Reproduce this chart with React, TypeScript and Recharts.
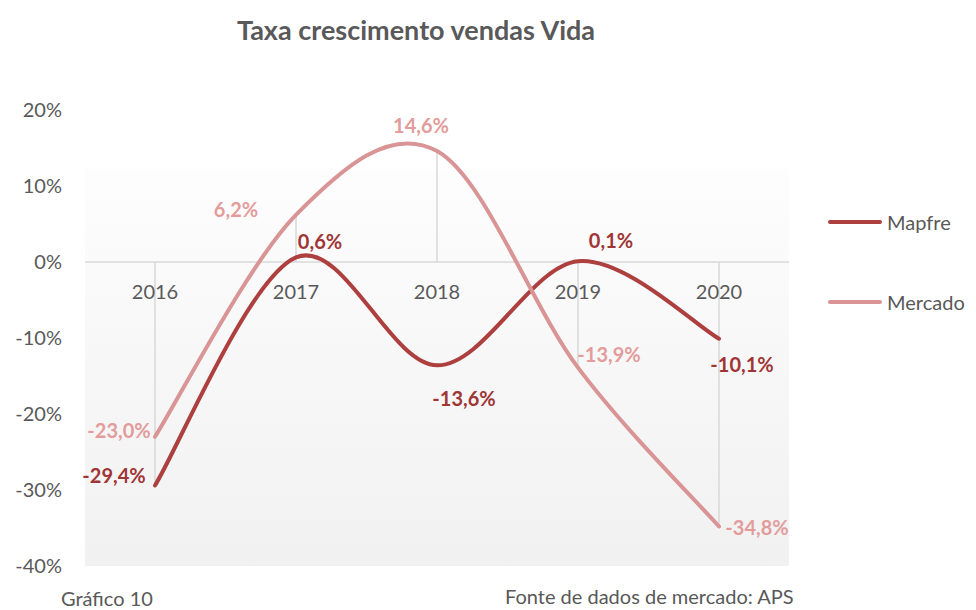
import React from "react";
import { LineChart, Line, XAxis, YAxis, CartesianGrid, ReferenceLine, ReferenceDot, LabelList } from "recharts";

const categories = ["2016", "2017", "2018", "2019", "2020"];
const mapfre = [-29.4, 0.6, -13.6, 0.1, -10.1];
const mercado = [-23.0, 6.2, 14.6, -13.9, -34.8];
const yTicks = [-40, -30, -20, -10, 0, 10, 20];

const TEXT = "#595959";
const FONT = "Lato, 'Open Sans', sans-serif";

// label placement offsets (style only)
const mapfreLabelOffsets = [[-41, -10], [24, -16], [27, 33], [33, -21], [23, 25]];
const mercadoLabelOffsets = [[-36, -7], [-60, -6], [-16, -26], [31, -14], [38, 1]];

const series = [
  { key: "Mapfre", values: mapfre, line: "#ad3f3f", label: "#a03535", offsets: mapfreLabelOffsets },
  { key: "Mercado", values: mercado, line: "#d99595", label: "#e39c9c", offsets: mercadoLabelOffsets },
];

const data = categories.map((c, i) => {
  const row: any = { cat: c };
  series.forEach((s) => (row[s.key] = s.values[i]));
  return row;
});

const dropExtremes = categories.map((c, i) => {
  let ext = 0;
  series.forEach((s) => {
    if (Math.abs(s.values[i]) > Math.abs(ext)) ext = s.values[i];
  });
  return ext;
});

// Excel-like smoothing (Catmull-Rom, k = 1/6)
function excelCurve(context: any) {
  let pts: number[][] = [];
  return {
    areaStart() {},
    areaEnd() {},
    lineStart() {
      pts = [];
    },
    point(x: any, y: any) {
      pts.push([+x, +y]);
    },
    lineEnd() {
      const n = pts.length;
      if (!n) return;
      context.moveTo(pts[0][0], pts[0][1]);
      for (let i = 0; i < n - 1; i++) {
        const p0 = pts[i - 1] || pts[i];
        const p1 = pts[i];
        const p2 = pts[i + 1];
        const p3 = pts[i + 2] || pts[i + 1];
        context.bezierCurveTo(
          p1[0] + (p2[0] - p0[0]) / 6,
          p1[1] + (p2[1] - p0[1]) / 6,
          p2[0] - (p3[0] - p1[0]) / 6,
          p2[1] - (p3[1] - p1[1]) / 6,
          p2[0],
          p2[1]
        );
      }
    },
  };
}

const fmt = (v: number) => v.toFixed(1).replace(".", ",") + "%";

const makeLabel = (color: string, offsets: number[][]) => (props: any) => {
  const vb = props.viewBox || {};
  const x = props.x ?? vb.x;
  const y = props.y ?? vb.y;
  const idx = props.index ?? 0;
  const off = offsets[idx] || [0, 0];
  if (x == null || y == null) return null;
  return (
    <text
      x={x + off[0]}
      y={y + off[1]}
      textAnchor="middle"
      dominantBaseline="central"
      fill={color}
      fontSize={20}
      fontWeight="bold"
      fontFamily={FONT}
    >
      {fmt(Number(props.value))}
    </text>
  );
};

export default function App() {
  return (
    <div style={{ position: "absolute", left: 0, top: 0, width: 976, height: 610, background: "#fff", fontFamily: FONT, overflow: "hidden" }}>
      <div
        style={{
          position: "absolute",
          left: 416,
          top: 12,
          transform: "translateX(-50%)",
          whiteSpace: "nowrap",
          fontSize: 27,
          fontWeight: "bold",
          color: TEXT,
          lineHeight: "36px",
        }}
      >
        Taxa crescimento vendas Vida
      </div>
      <LineChart
        width={976}
        height={610}
        data={data}
        margin={{ top: 110, right: 187, bottom: 44, left: 0 }}
        style={{ position: "absolute", left: 0, top: 0 }}
      >
        <defs>
          <linearGradient id="bgGrad" x1="0" y1="0" x2="0" y2="1">
            <stop offset="0" stopColor="#ffffff" />
            <stop offset="0.128" stopColor="#ffffff" />
            <stop offset="0.13" stopColor="#fdfdfd" />
            <stop offset="1" stopColor="#f1f1f1" />
          </linearGradient>
        </defs>
        <CartesianGrid horizontal={false} vertical={false} fill="url(#bgGrad)" stroke="none" />
        <XAxis dataKey="cat" hide padding={{ left: 70, right: 70 }} />
        <YAxis
          type="number"
          domain={[-40, 20]}
          ticks={yTicks}
          width={85}
          axisLine={false}
          tickLine={false}
          tickSize={0}
          tickMargin={23}
          tickFormatter={(v: number) => v + "%"}
          tick={{ fill: TEXT, fontSize: 20, fontFamily: FONT }}
        />
        {categories.map((c, i) => (
          <ReferenceLine
            key={"drop" + c}
            segment={[{ x: c, y: 0 }, { x: c, y: dropExtremes[i] }]}
            stroke="#d9d9d9"
            strokeWidth={1.5}
          />
        ))}
        <ReferenceLine y={0} stroke="#d9d9d9" strokeWidth={1.5} />
        {categories.map((c) => (
          <ReferenceDot
            key={"cat" + c}
            x={c}
            y={0}
            r={0}
            fill="none"
            stroke="none"
            label={{ value: c, position: "bottom", offset: 23, fill: TEXT, fontSize: 20, fontFamily: FONT }}
          />
        ))}
        {series.map((s) => (
          <Line
            key={s.key}
            dataKey={s.key}
            type={excelCurve as any}
            stroke={s.line}
            strokeWidth={4}
            strokeLinecap="round"
            dot={false}
            activeDot={false}
            isAnimationActive={false}
          >
            <LabelList dataKey={s.key} content={makeLabel(s.label, s.offsets)} />
          </Line>
        ))}
      </LineChart>
      {series.map((s, i) => (
        <div
          key={"leg" + s.key}
          style={{ position: "absolute", left: 828, top: 208 + i * 80, height: 28, display: "flex", alignItems: "center" }}
        >
          <div style={{ width: 54, height: 4, borderRadius: 2, background: s.line, marginRight: 5 }} />
          <span style={{ fontSize: 20, color: TEXT, whiteSpace: "nowrap" }}>{s.key}</span>
        </div>
      ))}
      <div style={{ position: "absolute", left: 61, top: 584, fontSize: 20, color: TEXT, whiteSpace: "nowrap", lineHeight: "28px" }}>
        Gráfico 10
      </div>
      <div style={{ position: "absolute", left: 505, top: 582, fontSize: 20, color: TEXT, whiteSpace: "nowrap", lineHeight: "28px" }}>
        Fonte de dados de mercado: APS
      </div>
    </div>
  );
}
